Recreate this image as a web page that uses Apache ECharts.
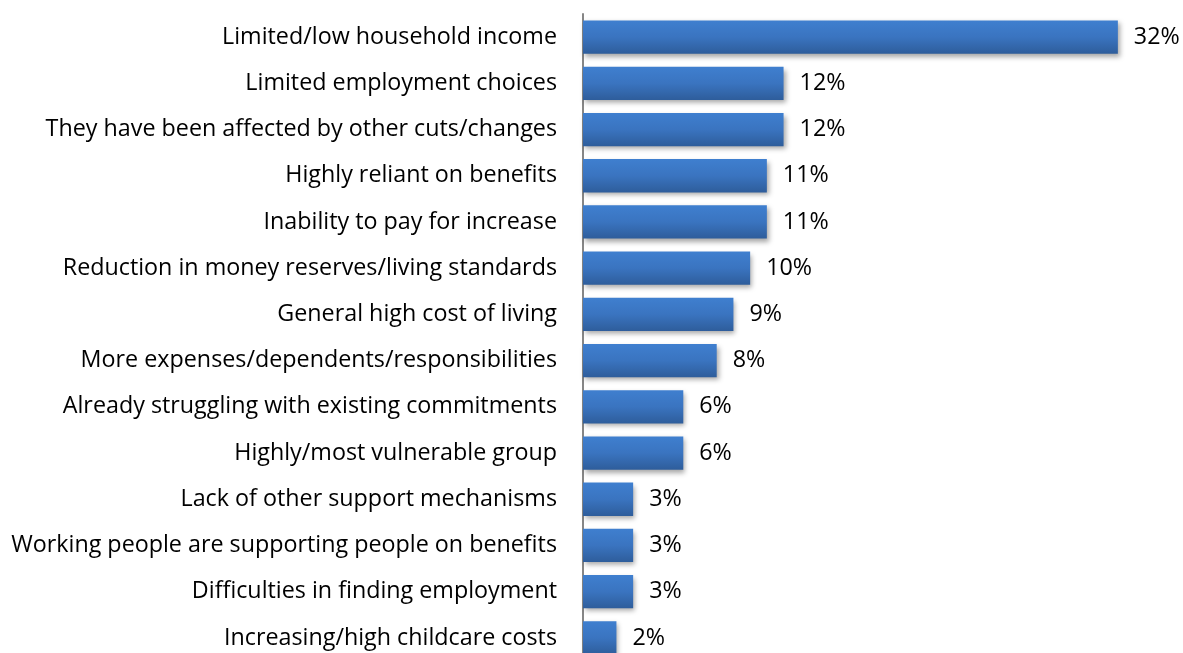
<!DOCTYPE html>
<html><head><meta charset="utf-8">
<script src="https://cdn.jsdelivr.net/npm/echarts@6/dist/echarts.min.js"></script>
<style>html,body{margin:0;padding:0;background:#fff;overflow:hidden}#c{width:1183px;height:670px}</style>
</head><body><div id="c"></div>
<script>
var categories = [
  "Limited/low household income",
  "Limited employment choices",
  "They have been affected by other cuts/changes",
  "Highly reliant on benefits",
  "Inability to pay for increase",
  "Reduction in money reserves/living standards",
  "General high cost of living",
  "More expenses/dependents/responsibilities",
  "Already struggling with existing commitments",
  "Highly/most vulnerable group",
  "Lack of other support mechanisms",
  "Working people are supporting people on benefits",
  "Difficulties in finding employment",
  "Increasing/high childcare costs"
];
var values = [32, 12, 12, 11, 11, 10, 9, 8, 6, 6, 3, 3, 3, 2];

var chart = echarts.init(document.getElementById('c'));
chart.setOption({
  animation: false,
  grid: { left: 583, top: 14, width: 585, height: 647, containLabel: false },
  xAxis: { type: 'value', min: 0, max: 35, show: false },
  yAxis: {
    type: 'category', data: categories, inverse: true,
    axisLine: { show: true, lineStyle: { color: '#868686', width: 2 } },
    axisTick: { show: false },
    axisLabel: { margin: 26, color: '#000', fontSize: 23.3, fontFamily: 'Open Sans', padding: [5, 0, 0, 0] }
  },
  series: [{
    type: 'bar', data: values, barCategoryGap: '28%',
    itemStyle: {
      color: new echarts.graphic.LinearGradient(0, 0, 0, 1, [
        { offset: 0, color: '#3f7fcf' },
        { offset: 0.5, color: '#3a74c0' },
        { offset: 1, color: '#2e5d9b' }
      ]),
      shadowColor: 'rgba(0,0,0,0.35)', shadowBlur: 5, shadowOffsetX: 2, shadowOffsetY: 3
    },
    label: { show: true, position: 'right', distance: 16, formatter: '{c}%', color: '#000', fontSize: 23.3, fontFamily: 'Open Sans', padding: [5, 0, 0, 0] }
  }]
});
</script></body></html>
